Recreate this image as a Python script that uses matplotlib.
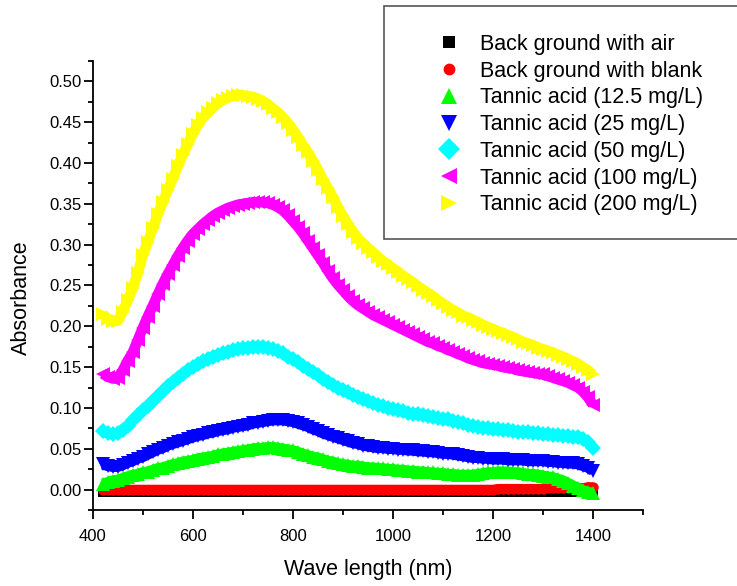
import numpy as np
import matplotlib
matplotlib.use("Agg")
import matplotlib.pyplot as plt
from matplotlib.patches import Rectangle

plt.rcParams['font.family'] = ['Liberation Sans', 'DejaVu Sans']

# wavelength grid of the scan (nm)
wavelength = np.arange(420, 1401, 10)

labels = ["Back ground with air", "Back ground with blank",
          "Tannic acid (12.5 mg/L)", "Tannic acid (25 mg/L)",
          "Tannic acid (50 mg/L)", "Tannic acid (100 mg/L)",
          "Tannic acid (200 mg/L)"]

bg_air = [
    -0.003, -0.003, -0.003, -0.003, -0.003, -0.003, -0.003, -0.003, -0.003, -0.003,
    -0.003, -0.003, -0.003, -0.003, -0.003, -0.003, -0.003, -0.003, -0.003, -0.003,
    -0.003, -0.003, -0.003, -0.003, -0.003, -0.003, -0.003, -0.003, -0.003, -0.003,
    -0.003, -0.003, -0.003, -0.003, -0.003, -0.003, -0.003, -0.003, -0.003, -0.003,
    -0.003, -0.003, -0.003, -0.003, -0.003, -0.003, -0.003, -0.003, -0.003, -0.003,
    -0.003, -0.003, -0.003, -0.003, -0.003, -0.003, -0.003, -0.003, -0.003, -0.003,
    -0.003, -0.003, -0.003, -0.003, -0.003, -0.003, -0.003, -0.003, -0.003, -0.003,
    -0.003, -0.003, -0.003, -0.003, -0.003, -0.003, -0.003, -0.003, -0.003, -0.003,
    -0.003, -0.003, -0.003, -0.003, -0.003, -0.003, -0.003, -0.003, -0.003, -0.003,
    -0.003, -0.003, -0.003, -0.003, -0.003, -0.003, -0.002, -0.002, -0.002,
]

bg_blank = [
    0.000, 0.000, 0.000, 0.000, 0.000, 0.000, 0.000, 0.000, 0.000, 0.000,
    0.000, 0.000, 0.000, 0.000, 0.000, 0.000, 0.000, 0.000, 0.000, 0.000,
    0.000, 0.000, 0.000, 0.000, 0.000, 0.000, 0.000, 0.000, 0.000, 0.000,
    0.000, 0.000, 0.000, 0.000, 0.000, 0.000, 0.000, 0.000, 0.000, 0.000,
    0.000, 0.000, 0.000, 0.000, 0.000, 0.000, 0.000, 0.000, 0.000, 0.000,
    0.000, 0.000, 0.000, 0.000, 0.000, 0.000, 0.000, 0.000, 0.000, 0.000,
    0.000, 0.000, 0.000, 0.000, 0.000, 0.000, 0.000, 0.000, 0.000, 0.000,
    0.000, 0.000, 0.000, 0.000, 0.000, 0.000, 0.000, 0.000, 0.000, 0.001,
    0.001, 0.001, 0.001, 0.001, 0.001, 0.001, 0.001, 0.001, 0.001, 0.002,
    0.002, 0.002, 0.002, 0.002, 0.002, 0.002, 0.002, 0.003, 0.003,
]

ta_12_5 = [
    0.007, 0.009, 0.011, 0.012, 0.014, 0.016, 0.018, 0.019, 0.021, 0.022,
    0.024, 0.026, 0.027, 0.029, 0.031, 0.032, 0.034, 0.035, 0.036, 0.038,
    0.039, 0.040, 0.041, 0.043, 0.044, 0.045, 0.046, 0.047, 0.048, 0.049,
    0.050, 0.051, 0.051, 0.052, 0.052, 0.051, 0.050, 0.049, 0.048, 0.046,
    0.044, 0.042, 0.040, 0.039, 0.037, 0.035, 0.034, 0.032, 0.031, 0.030,
    0.029, 0.029, 0.028, 0.027, 0.027, 0.026, 0.026, 0.025, 0.025, 0.024,
    0.024, 0.023, 0.023, 0.022, 0.022, 0.021, 0.021, 0.020, 0.020, 0.019,
    0.019, 0.018, 0.018, 0.018, 0.018, 0.019, 0.020, 0.021, 0.021, 0.022,
    0.022, 0.022, 0.021, 0.021, 0.020, 0.019, 0.019, 0.018, 0.017, 0.016,
    0.015, 0.013, 0.011, 0.008, 0.005, 0.002, -0.001, -0.003, -0.004,
]

ta_25 = [
    0.031, 0.029, 0.028, 0.028, 0.030, 0.033, 0.035, 0.038, 0.040, 0.043,
    0.046, 0.049, 0.051, 0.054, 0.056, 0.058, 0.060, 0.062, 0.064, 0.066,
    0.067, 0.069, 0.070, 0.072, 0.073, 0.074, 0.076, 0.077, 0.078, 0.079,
    0.081, 0.082, 0.083, 0.084, 0.085, 0.085, 0.085, 0.084, 0.083, 0.081,
    0.079, 0.077, 0.074, 0.072, 0.069, 0.067, 0.065, 0.063, 0.061, 0.059,
    0.057, 0.056, 0.054, 0.053, 0.052, 0.051, 0.051, 0.050, 0.050, 0.049,
    0.049, 0.048, 0.048, 0.047, 0.047, 0.046, 0.046, 0.045, 0.044, 0.044,
    0.043, 0.042, 0.041, 0.040, 0.039, 0.039, 0.038, 0.038, 0.037, 0.037,
    0.037, 0.036, 0.036, 0.036, 0.036, 0.035, 0.035, 0.035, 0.035, 0.034,
    0.034, 0.033, 0.033, 0.032, 0.032, 0.031, 0.029, 0.027, 0.023,
]

ta_50 = [
    0.072, 0.069, 0.068, 0.069, 0.073, 0.078, 0.085, 0.091, 0.097, 0.103,
    0.109, 0.115, 0.121, 0.127, 0.132, 0.137, 0.142, 0.146, 0.150, 0.154,
    0.157, 0.160, 0.163, 0.165, 0.167, 0.169, 0.171, 0.172, 0.173, 0.174,
    0.175, 0.175, 0.175, 0.174, 0.172, 0.170, 0.167, 0.163, 0.160, 0.156,
    0.152, 0.148, 0.144, 0.140, 0.136, 0.132, 0.128, 0.125, 0.122, 0.119,
    0.116, 0.113, 0.111, 0.108, 0.106, 0.104, 0.102, 0.100, 0.099, 0.097,
    0.096, 0.094, 0.093, 0.092, 0.091, 0.090, 0.089, 0.088, 0.087, 0.086,
    0.084, 0.083, 0.081, 0.079, 0.078, 0.077, 0.076, 0.075, 0.074, 0.074,
    0.073, 0.073, 0.072, 0.071, 0.071, 0.070, 0.069, 0.069, 0.068, 0.068,
    0.067, 0.067, 0.066, 0.066, 0.065, 0.064, 0.062, 0.058, 0.051,
]

ta_100 = [
    0.142, 0.138, 0.136, 0.137, 0.146, 0.158, 0.168, 0.183, 0.198, 0.212,
    0.225, 0.239, 0.252, 0.264, 0.275, 0.286, 0.296, 0.305, 0.313, 0.319,
    0.325, 0.330, 0.335, 0.339, 0.342, 0.345, 0.347, 0.349, 0.350, 0.351,
    0.352, 0.352, 0.352, 0.351, 0.349, 0.346, 0.342, 0.336, 0.329, 0.322,
    0.314, 0.305, 0.296, 0.287, 0.278, 0.268, 0.259, 0.251, 0.244, 0.237,
    0.231, 0.226, 0.222, 0.218, 0.214, 0.211, 0.208, 0.205, 0.202, 0.199,
    0.196, 0.193, 0.190, 0.187, 0.184, 0.181, 0.179, 0.176, 0.174, 0.171,
    0.169, 0.166, 0.164, 0.161, 0.159, 0.157, 0.155, 0.154, 0.153, 0.152,
    0.150, 0.149, 0.148, 0.146, 0.145, 0.144, 0.143, 0.142, 0.141, 0.139,
    0.137, 0.135, 0.133, 0.131, 0.128, 0.125, 0.120, 0.113, 0.104,
]

ta_200 = [
    0.215, 0.209, 0.206, 0.207, 0.218, 0.232, 0.247, 0.265, 0.287, 0.303,
    0.320, 0.337, 0.352, 0.367, 0.381, 0.396, 0.410, 0.423, 0.436, 0.447,
    0.455, 0.462, 0.468, 0.473, 0.477, 0.480, 0.482, 0.483, 0.483, 0.482,
    0.481, 0.479, 0.476, 0.472, 0.467, 0.462, 0.456, 0.449, 0.441, 0.432,
    0.422, 0.413, 0.403, 0.392, 0.380, 0.369, 0.358, 0.346, 0.335, 0.325,
    0.316, 0.308, 0.302, 0.296, 0.291, 0.285, 0.280, 0.276, 0.271, 0.267,
    0.262, 0.258, 0.254, 0.249, 0.245, 0.241, 0.237, 0.232, 0.228, 0.224,
    0.220, 0.217, 0.213, 0.211, 0.208, 0.205, 0.202, 0.199, 0.197, 0.194,
    0.192, 0.189, 0.187, 0.184, 0.181, 0.179, 0.177, 0.174, 0.172, 0.170,
    0.168, 0.165, 0.163, 0.160, 0.157, 0.154, 0.150, 0.146, 0.141,
]

series = [bg_air, bg_blank, ta_12_5, ta_25, ta_50, ta_100, ta_200]
colors = ['#000000', '#FF0000', '#00FF00', '#0000FF', '#00FFFF', '#FF00FF', '#FFFF00']
markers = ['s', 'o', '^', 'v', 'D', '<', '>']
sizes = [7.5, 7.5, 9.5, 9.5, 8.5, 9.5, 9.5]
widths = [6.5, 7.0, 7.5, 7.5, 7.5, 7.5, 7.5]
legend_sizes = [8.0, 8.5, 11.0, 11.0, 11.5, 11.0, 11.0]

fig = plt.figure(figsize=(7.37, 5.86), dpi=100)
ax = fig.add_axes([0.1258, 0.1297, 0.7467, 0.7662])

# dense symbols: a wide stroke under the markers keeps each series a solid band
for vals, c, m, s, w, lab in zip(series, colors, markers, sizes, widths, labels):
    ax.plot(wavelength, vals, linestyle='-', lw=w, marker=m, ms=s, color=c,
            mew=0, solid_capstyle='butt', solid_joinstyle='round', label=lab)

ax.set_xlim(400, 1500)
ax.set_ylim(-0.025, 0.525)
ax.set_xticks(np.arange(400, 1401, 200))
ax.set_xticks(np.arange(500, 1501, 200), minor=True)
ax.set_yticks(np.arange(0, 0.51, 0.05))
ax.set_yticks(np.arange(-0.025, 0.526, 0.05), minor=True)
ax.yaxis.set_major_formatter(plt.FormatStrFormatter('%.2f'))

for side in ['top', 'right']:
    ax.spines[side].set_visible(False)
for side in ['left', 'bottom']:
    ax.spines[side].set_linewidth(1.3)

ax.tick_params(which='major', direction='out', length=6.5, width=1.3, labelsize=12)
ax.tick_params(which='minor', direction='out', length=3.5, width=1.3)
ax.tick_params(axis='y', which='major', pad=1.5)
ax.tick_params(axis='x', which='major', pad=7)

ax.set_xlabel('Wave length (nm)', fontsize=15.5, labelpad=11)
ax.set_ylabel('Absorbance', fontsize=15.5)
ax.yaxis.set_label_coords(-0.110, 0.472)

# legend frame runs off the right edge
box = Rectangle((384 / 737, 1 - 239 / 586), 0.6, 233 / 586, transform=fig.transFigure,
                facecolor='white', edgecolor='#555555', linewidth=1.2, zorder=5)
fig.patches.append(box)

leg_handles = [plt.Line2D([], [], linestyle='none', marker=m, ms=s, color=c, mew=0)
               for m, s, c in zip(markers, legend_sizes, colors)]
leg = fig.legend(leg_handles, labels, loc='upper left',
                 bbox_to_anchor=(438 / 737, 1 - 34 / 586),
                 frameon=False, fontsize=15.5, numpoints=1, handlelength=1.0,
                 handletextpad=0.95, labelspacing=0.265, borderaxespad=0, borderpad=0)
leg.set_zorder(6)

fig.savefig('out.png', dpi=100)
